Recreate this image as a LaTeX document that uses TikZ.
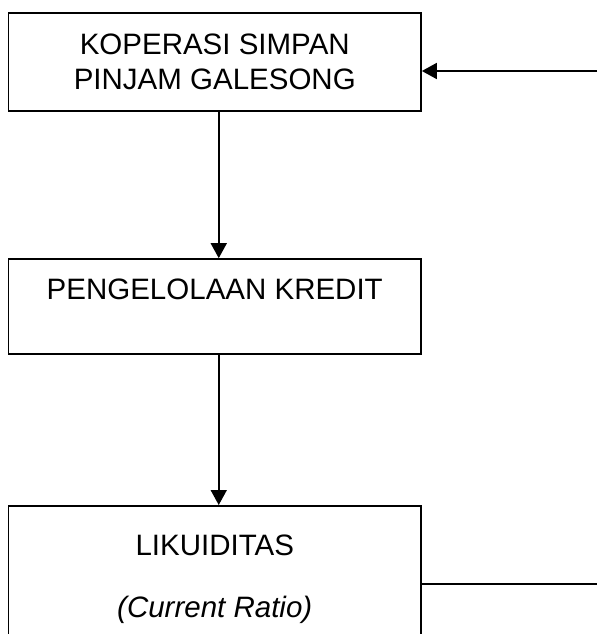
\documentclass[tikz,border=0pt]{standalone}
\usepackage{fontspec}
\setmainfont{Liberation Sans}
\usetikzlibrary{arrows.meta}

\begin{document}
\begin{tikzpicture}[x=1pt, y=-1pt, line width=1.7pt,
		kotak/.style={draw, minimum width=412.5pt, align=center, inner sep=0pt, font=\fontsize{29.5}{35}\selectfont},
		panah/.style={-{Triangle[length=15pt, width=16pt]}}]
	%%%%% START %%%%%
	
	\useasboundingbox (0, 0) rectangle (597, 634);
	\clip (0, 0) rectangle (597, 634);
	
	\node[kotak, minimum height=98pt] (koperasi) at (214.75, 62) {KOPERASI SIMPAN\\PINJAM GALESONG};
	\node[kotak, minimum height=95pt] (kredit) at (214.75, 306.5) {PENGELOLAAN KREDIT\\ \mbox{}};
	\node[kotak, anchor=north, inner ysep=29pt] (likuid) at (214.75, 505) {LIKUIDITAS\\[27pt]\textit{(Current Ratio)}};
	
	\coordinate (masuk) at (597, 71);
	\coordinate (keluar) at (597, 584);
	
	\draw[panah] (masuk) -- (masuk -| koperasi.east);
	\draw[panah] ([xshift=4pt]koperasi.south) -- ([xshift=4pt]kredit.north);
	\draw[panah] ([xshift=4pt]kredit.south) -- ([xshift=4pt]likuid.north);
	\draw[line width=1.4pt] (likuid.east |- keluar) -- (keluar);
	
	%%%%% END %%%%%
\end{tikzpicture}
\end{document}
